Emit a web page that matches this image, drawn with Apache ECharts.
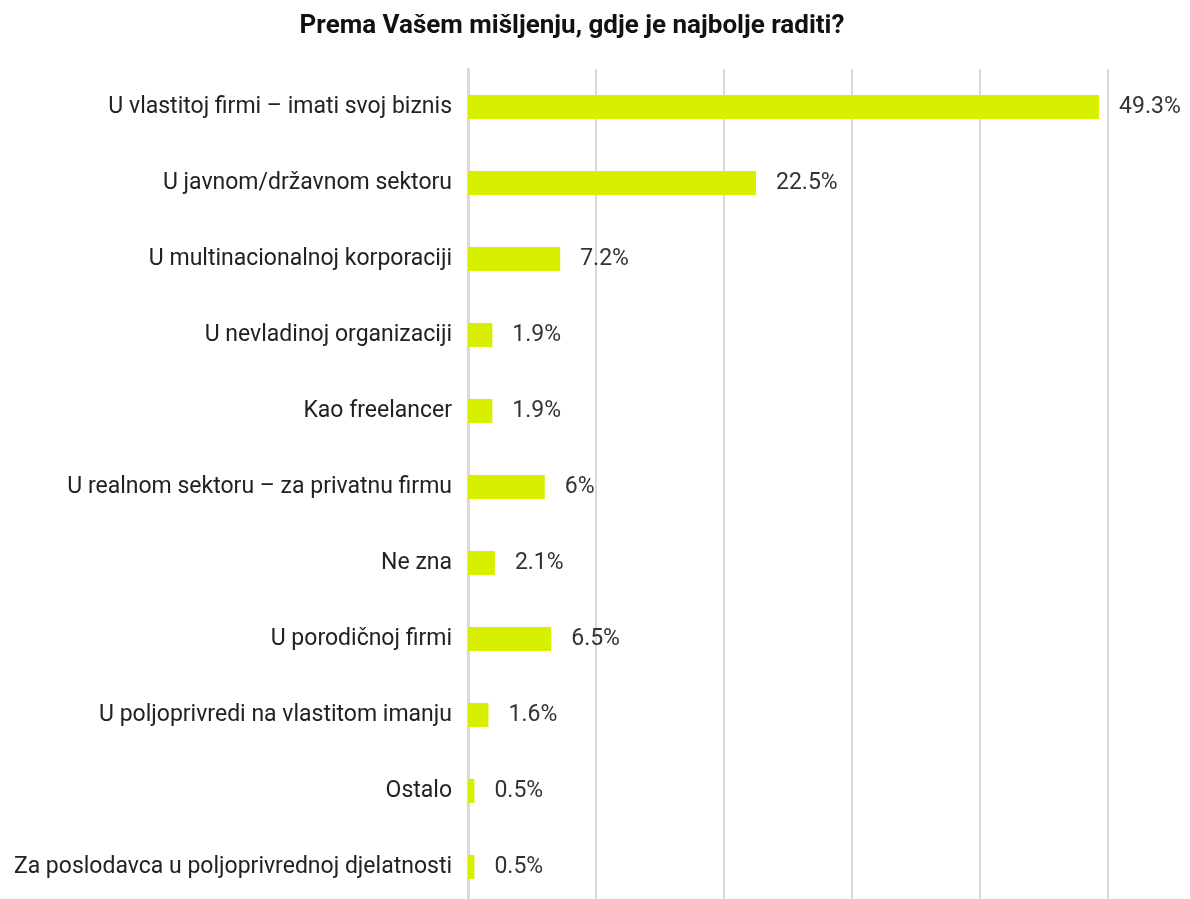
<!DOCTYPE html>
<html>
<head>
<meta charset="utf-8">
<script src="https://cdn.jsdelivr.net/npm/echarts@6/dist/echarts.min.js"></script>
<style>
html,body{margin:0;padding:0;background:#fff;}
#chart{width:1190px;height:899px;}
</style>
</head>
<body>
<div id="chart"></div>
<script>
var categories=[
    "U vlastitoj firmi – imati svoj biznis",
    "U javnom/državnom sektoru",
    "U multinacionalnoj korporaciji",
    "U nevladinoj organizaciji",
    "Kao freelancer",
    "U realnom sektoru – za privatnu firmu",
    "Ne zna",
    "U porodičnoj firmi",
    "U poljoprivredi na vlastitom imanju",
    "Ostalo",
    "Za poslodavca u poljoprivrednoj djelatnosti"
];
var values=[49.3,22.5,7.2,1.9,1.9,6,2.1,6.5,1.6,0.5,0.5];

var myChart=echarts.init(document.getElementById('chart'));
var option={
    animation:false,
    title:{
        text:"Prema Vašem mišljenju, gdje je najbolje raditi?",
        left:567,
        textAlign:'center',
        top:8,
        textStyle:{fontFamily:'Roboto',fontWeight:'bold',fontSize:26,color:'#111'}
    },
    grid:{left:468,width:640,top:69,height:836,containLabel:false,outerBoundsMode:'none'},
    xAxis:{
        type:'value',
        min:0,max:50,interval:10,
        axisLabel:{show:false},
        axisLine:{show:false},
        axisTick:{show:false},
        splitLine:{show:true,lineStyle:{color:'#d9d9d9',width:2}}
    },
    yAxis:{
        type:'category',
        inverse:true,
        data:categories,
        axisLine:{show:true,lineStyle:{color:'#d9d9d9',width:3}},
        axisTick:{show:false},
        axisLabel:{margin:16,padding:[5,0,0,0],fontFamily:'Roboto',fontSize:23,color:'#222'}
    },
    series:[{
        type:'bar',
        data:values,
        barWidth:24,
        itemStyle:{color:'#d9ef00'},
        label:{
            show:true,position:'right',distance:20,padding:[5,0,0,0],
            fontFamily:'Roboto',fontSize:23,color:'#333',
            formatter:function(p){return p.value+'%';}
        }
    }]
};
myChart.setOption(option);
</script>
</body>
</html>
